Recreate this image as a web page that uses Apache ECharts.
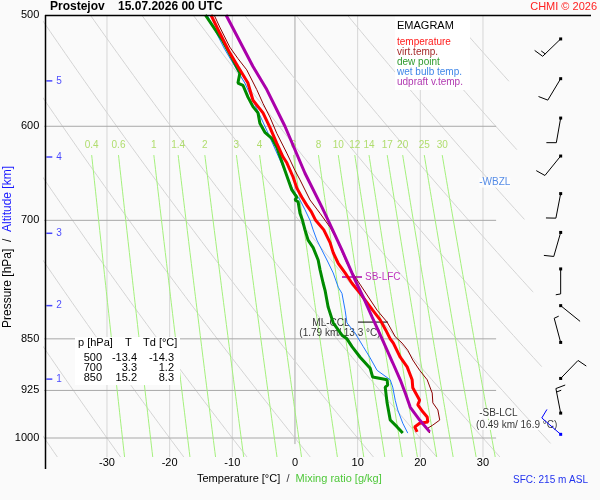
<!DOCTYPE html>
<html>
<head>
<meta charset="utf-8">
<title>Emagram Prostejov</title>
<script src="https://cdn.jsdelivr.net/npm/echarts@6.0.0/dist/echarts.min.js"></script>
<style>
  html, body { margin: 0; padding: 0; background: #fafafa; }
  #chart { width: 600px; height: 500px; }
</style>
</head>
<body>
<div id="chart"></div>
<script>
// sounding profiles, [pressure hPa, temperature °C]
var tempProfile = [[500,-13.4],[515,-12.0],[532,-10.4],[544,-9.1],[559,-7.5],[575,-6.7],[587,-5.1],[601,-4.0],
  [617,-2.9],[631,-1.9],[637,-1.3],[652,-0.3],[664,0.3],[674,1.1],[683,1.9],[690,2.6],[700,3.3],[711,4.6],
  [726,5.6],[738,6.1],[751,6.9],[763,8.0],[776,9.1],[789,10.4],[811,12.4],[824,13.6],[838,14.5],[850,15.2],
  [856,15.7],[876,16.8],[890,17.9],[909,18.7],[921,18.8],[940,19.9],[947,19.6],[958,20.4],[966,21.1],
  [974,21.2],[976,19.9],[982,19.1],[990,19.5]];
var virtProfile = [[500,-12.9],[510,-12.0],[527,-10.4],[537,-9.1],[547,-7.7],[565,-6.1],[578,-5.1],[591,-4.0],
  [607,-2.9],[627,-1.3],[645,0],[655,0.8],[677,2.4],[692,4.0],[708,5.6],[723,6.7],[737,7.5],[751,8.3],
  [768,9.6],[791,11.5],[811,13.1],[827,14.7],[847,16.0],[856,17.1],[866,18.0],[880,18.8],[895,19.9],
  [909,21.1],[929,21.9],[944,22.0],[955,22.8],[971,23.1],[979,22.0],[984,21.2],[992,21.5]];
var dewProfile = [[500,-14.3],[521,-11.6],[538,-9.9],[550,-8.8],[559,-9.1],[561,-8.3],[572,-7.5],[581,-6.7],
  [587,-5.9],[597,-5.6],[606,-4.8],[612,-3.7],[621,-2.9],[645,-1.6],[666,-0.5],[674,0.3],[677,0],[679,0.5],
  [692,0.8],[700,1.2],[711,1.6],[723,2.1],[732,2.9],[747,3.7],[759,4.0],[776,4.5],[785,4.8],[807,5.3],
  [828,6.1],[845,7.5],[850,8.3],[861,9.1],[876,10.4],[892,12.0],[905,12.4],[909,14.7],[917,14.8],
  [920,14.4],[944,14.7],[971,15.2],[982,16.3],[992,17.2]];
var wetProfile = [[500,-14.0],[529,-11.2],[559,-8.0],[579,-6.4],[604,-4.5],[634,-2.4],[666,-0.3],[677,0.8],
  [688,1.6],[700,2.4],[711,2.9],[723,3.5],[735,4.3],[747,5.1],[763,6.1],[781,6.9],[789,7.5],[811,8.0],
  [828,8.3],[842,9.6],[861,10.9],[877,12.0],[895,13.1],[909,15.2],[920,15.6],[940,16.0],[955,16.4],
  [976,17.2],[992,18.0]];
var updraftProfile = [[500,-11.0],[544,-6.7],[565,-4.5],[600,-1.6],[648,1.6],[685,4.3],[700,5.3],[735,7.5],
  [772,9.6],[794,10.9],[820,12.3],[850,13.9],[884,15.6],[909,16.8],[929,17.6],[951,18.4],[971,19.9],[990,21.5]];

// wind: pressure, direction (deg, from), speed (kt)
var windP = [520, 555, 592, 630, 670, 714, 758, 805, 855, 907, 960, 994];
var windDir = [226, 211, 190, 219, 191, 196, 180, 129, 345, 44, 349, 311];
var windSpd = [15, 10, 10, 10, 10, 10, 5, 2, 5, 10, 15, 10];

// table of standard levels
var tableP = [500, 700, 850];
var tableT = [-13.4, 3.3, 15.2];
var tableTd = [-14.3, 1.2, 8.3];

// altitude marks (km) and their pressure
var altKm = [1, 2, 3, 4, 5];
var altP = [908, 805, 715, 631, 557];

// diagram background
var pLabels = [500, 600, 700, 850, 925, 1000];
var isobars = [600, 700, 850, 925, 1000];
var tLabels = [-30, -20, -10, 0, 10, 20, 30];
var isotherms = [-30, -20, -10, 0, 10, 20, 30];
var mixRatios = [0.4, 0.6, 1, 1.4, 2, 3, 4, 6, 8, 10, 12, 14, 17, 20, 25, 30];
var thetas = [-40, -30, -20, -10, 0, 10, 20, 30, 40, 50, 60, 70, 80, 90, 100, 110];

var FONT = '"Liberation Sans", Arial, sans-serif';
var P_TOP = 500, P_BOT = 1031.6, T_MIN = -40, T_MAX = 47.24;
var MIX_TOP = 629, BARB_X = 42.4;

var chart = echarts.init(document.getElementById('chart'));

function toXY(prof) {
  return prof.map(function (d) { return [d[1], d[0]]; });
}

var pSteps = [];
for (var i = 0; i <= 80; i++) {
  pSteps.push(P_TOP * Math.pow(P_BOT / P_TOP, i / 80));
}

function tdFromMix(w, p) {
  var e = w * p / (622 + w);
  var a = Math.log(e / 6.112);
  return 243.5 * a / (17.67 - a);
}

// right end of the dry adiabats
function tMaxAt(p) { return 34 + 11.2 * Math.log(p / 550); }

function adiabat(th) {
  var pts = [], prev = null;
  for (var i = 0; i < pSteps.length; i++) {
    var p = pSteps[i];
    var t = (th + 273.15) * Math.pow(p / 1000, 0.2857) - 273.15;
    var g = tMaxAt(p) - t;
    if (g >= 0) {
      pts.push([t, p]);
      prev = [t, p, g];
    } else {
      if (prev) {
        var f = prev[2] / (prev[2] - g);
        var pc = Math.exp(Math.log(prev[1]) + f * (Math.log(p) - Math.log(prev[1])));
        pts.push([prev[0] + f * (t - prev[0]), pc]);
      }
      break;
    }
  }
  return pts;
}

function gridLine(data, color, width) {
  return {
    type: 'line', data: data, symbol: 'none', silent: true, z: 1,
    lineStyle: { color: color, width: width || 1 },
    animation: false
  };
}

var series = [];

isotherms.forEach(function (t) {
  var bottom = t === 0 ? 1010 : P_BOT;
  series.push(gridLine([[t, P_TOP], [t, bottom]], t === 0 ? '#a8a8a8' : '#d6d6d6'));
});
thetas.forEach(function (th) {
  series.push(gridLine(adiabat(th), '#d4d4d4'));
});
isobars.forEach(function (p) {
  series.push(gridLine([[T_MIN, p], [32.1, p]], '#a8a8a8'));
});
mixRatios.forEach(function (w) {
  var pts = [];
  pSteps.forEach(function (p) { if (p >= MIX_TOP - 0.5) pts.push([tdFromMix(w, p), p]); });
  pts.unshift([tdFromMix(w, MIX_TOP), MIX_TOP]);
  series.push(gridLine(pts, '#a4f07c'));
});

// mixing ratio labels
series.push({
  type: 'scatter', silent: true, z: 1, symbolSize: 0, animation: false,
  data: mixRatios.map(function (w) { return [tdFromMix(w, MIX_TOP), MIX_TOP, w]; }),
  label: {
    show: true, position: 'top', distance: 5, color: '#9ed64a', fontSize: 10, fontFamily: FONT,
    formatter: function (pr) { return String(pr.value[2]); }
  }
});

// altitude marks
series.push({
  type: 'scatter', silent: true, z: 2, symbol: 'rect', symbolSize: [6, 1.5], animation: false,
  itemStyle: { color: '#1a1aff' },
  data: altP.map(function (p, i) { return [-39.2, p, altKm[i]]; }),
  label: {
    show: true, position: 'right', distance: 4, color: '#1a1aff', fontSize: 10, fontFamily: FONT,
    formatter: function (pr) { return String(pr.value[2]); }
  }
});

function profile(name, prof, color, width) {
  return {
    name: name, type: 'line', data: toXY(prof), symbol: 'none', z: 4, animation: false,
    lineStyle: { color: color, width: width }
  };
}
series.push(profile('wet bulb temp.', wetProfile, '#1f78ff', 1));
series.push(profile('dew point', dewProfile, '#008a00', 3));
series.push(profile('virt.temp.', virtProfile, '#8b0000', 1));
series.push(profile('temperature', tempProfile, '#ff0000', 3));
series.push(profile('udpraft v.temp.', updraftProfile, '#aa00aa', 3));

// level markers
series.push(gridLine([[7.5, 768], [10.7, 768]], '#aa00aa', 1.5));
series.push(gridLine([[10.05, 827], [14.84, 827]], '#000000', 1));
series.push({
  type: 'scatter', silent: true, z: 3, symbolSize: 0, animation: false,
  data: [
    { value: [11.17, 768], label: { position: 'right', color: '#b000b0', formatter: 'SB-LFC' } },
    { value: [5.74, 828], label: { position: 'inside', color: '#000', formatter: 'ML-CCL' } },
    { value: [7.18, 842], label: { position: 'inside', color: '#000', formatter: '(1.79 km/ 13.3 °C)' } },
    { value: [29.4, 658], label: { position: 'right', color: '#2a6fe0', backgroundColor: '#fff', formatter: '-WBZL' } },
    { value: [29.4, 961], label: { position: 'right', color: '#000', backgroundColor: '#fff', formatter: '-SB-LCL' } },
    { value: [28.9, 979], label: { position: 'right', color: '#000', backgroundColor: '#fff', formatter: '(0.49 km/ 16.9 °C)' } }
  ],
  label: { show: true, distance: 0, fontSize: 10, fontFamily: FONT }
});

// wind barbs
series.push({
  type: 'custom', z: 6, silent: true, animation: false,
  data: windP.map(function (p, i) { return [BARB_X, p, windDir[i], windSpd[i]]; }),
  renderItem: function (params, api) {
    var c = api.coord([api.value(0), api.value(1)]);
    var d = api.value(2) * Math.PI / 180, s = api.value(3);
    var ux = Math.sin(d), uy = -Math.cos(d);
    var px = -uy, py = ux;
    var bx = 0.17 * ux + 0.98 * px, by = 0.17 * uy + 0.98 * py;
    var col = params.dataIndex === windP.length - 1 ? '#0000ff' : '#000000';
    var L = 25, kids = [];
    kids.push({ type: 'line', shape: { x1: c[0], y1: c[1], x2: c[0] + L * ux, y2: c[1] + L * uy },
      style: { stroke: col, lineWidth: 1 } });
    var full = Math.floor(s / 10), half = (s % 10) >= 5 ? 1 : 0, k = 0;
    function barb(len) {
      var sx = c[0] + (L - k * 3.5) * ux, sy = c[1] + (L - k * 3.5) * uy;
      kids.push({ type: 'line', shape: { x1: sx, y1: sy, x2: sx + len * bx, y2: sy + len * by },
        style: { stroke: col, lineWidth: 1 } });
      k++;
    }
    for (var j = 0; j < full; j++) barb(10);
    if (half) barb(5);
    kids.push({ type: 'rect', shape: { x: c[0] - 1.5, y: c[1] - 1.5, width: 3, height: 3 }, style: { fill: col } });
    return { type: 'group', children: kids };
  }
});

// table text
var tableGraphics = [
  { type: 'rect', z: 2, shape: { x: 75, y: 337, width: 105, height: 48 }, style: { fill: '#ffffff' } },
  { type: 'text', z: 7, style: { x: 78, y: 343, text: 'p [hPa]', font: '11px ' + FONT, fill: '#000', textVerticalAlign: 'middle' } },
  { type: 'text', z: 7, style: { x: 125, y: 343, text: 'T', font: '11px ' + FONT, fill: '#000', textVerticalAlign: 'middle' } },
  { type: 'text', z: 7, style: { x: 143, y: 343, text: 'Td [°C]', font: '11px ' + FONT, fill: '#000', textVerticalAlign: 'middle' } }
];
tableP.forEach(function (p, i) {
  var y = 358 + i * 10;
  [[102, String(p)], [137, tableT[i].toFixed(1)], [174, tableTd[i].toFixed(1)]].forEach(function (c) {
    tableGraphics.push({ type: 'text', z: 7, style: { x: c[0], y: y, text: c[1], font: '11px ' + FONT,
      fill: '#000', textAlign: 'right', textVerticalAlign: 'middle' } });
  });
});

var option = {
  backgroundColor: '#fafafa',
  animation: false,
  textStyle: { fontFamily: FONT },
  title: [
    { text: 'Prostejov    15.07.2026 00 UTC', left: 50, top: 1, padding: 0,
      textStyle: { fontSize: 12, fontWeight: 'bold', color: '#000', fontFamily: FONT } },
    { text: 'CHMI © 2026', right: 3, top: 1.5, padding: 0,
      textStyle: { fontSize: 11, fontWeight: 'normal', color: '#ff2020', fontFamily: FONT } },
    { text: 'EMAGRAM', left: 397, top: 20.5, padding: 0,
      textStyle: { fontSize: 11, fontWeight: 'normal', color: '#000', fontFamily: FONT } },
    { text: 'SFC: 215 m ASL', right: 12, top: 475, padding: 0,
      textStyle: { fontSize: 10, fontWeight: 'normal', color: '#2233ee', fontFamily: FONT } },
    { text: '{a|Temperature [°C]}  /  {b|Mixing ratio [g/kg]}', left: 197, top: 473, padding: 0,
      textStyle: { fontSize: 11, fontWeight: 'normal', fontFamily: FONT,
        rich: { a: { color: '#000', fontSize: 11, fontFamily: FONT }, b: { color: '#4fc83a', fontSize: 11, fontFamily: FONT } } } }
  ],
  legend: {
    orient: 'vertical', left: 392, top: 37, padding: 0,
    icon: 'rect', itemWidth: 0, itemHeight: 0, itemGap: 0,
    selectedMode: false,
    textStyle: { fontSize: 10, lineHeight: 10, fontFamily: FONT },
    data: [
      { name: 'temperature', textStyle: { color: '#ff1a1a' } },
      { name: 'virt.temp.', textStyle: { color: '#a52a2a' } },
      { name: 'dew point', textStyle: { color: '#2e9a2e' } },
      { name: 'wet bulb temp.', textStyle: { color: '#3f86e8' } },
      { name: 'udpraft v.temp.', textStyle: { color: '#b13ab1' } }
    ]
  },
  grid: { left: 44.3, top: 15, width: 546.7, height: 442, containLabel: false },
  xAxis: {
    type: 'value', min: T_MIN, max: T_MAX,
    axisLine: { show: false }, axisTick: { show: false }, splitLine: { show: false },
    axisLabel: { customValues: tLabels, margin: 0, fontSize: 11, color: '#000', fontFamily: FONT }
  },
  yAxis: {
    type: 'log', logBase: 10, inverse: true, min: P_TOP, max: P_BOT,
    axisLine: { show: false }, axisTick: { show: false }, splitLine: { show: false },
    axisLabel: { customValues: pLabels, margin: 5, fontSize: 11, color: '#000', fontFamily: FONT,
      formatter: function (v) { return String(Math.round(v)); } }
  },
  graphic: [
    { type: 'rect', z: 2, shape: { x: 395, y: 16, width: 75, height: 74 }, style: { fill: '#ffffff' } },
    { type: 'line', z: 7, shape: { x1: 45.5, y1: 15, x2: 45.5, y2: 469 }, style: { stroke: '#000', lineWidth: 1.5 } },
    { type: 'line', z: 7, shape: { x1: 45, y1: 15.5, x2: 591, y2: 15.5 }, style: { stroke: '#000', lineWidth: 1.5 } },
    { type: 'text', z: 7, x: 8, y: 247, rotation: Math.PI / 2,
      style: { x: 0, y: 0, text: '{a|Pressure [hPa]}  /  {b|Altitude [km]}', font: '12px ' + FONT,
        textAlign: 'center', textVerticalAlign: 'middle',
        rich: { a: { fill: '#000', color: '#000', fontSize: 12, fontFamily: FONT },
                b: { fill: '#1a1aff', color: '#1a1aff', fontSize: 12, fontFamily: FONT } } } }
  ].concat(tableGraphics),
  series: series
};

chart.setOption(option);
</script>
</body>
</html>
